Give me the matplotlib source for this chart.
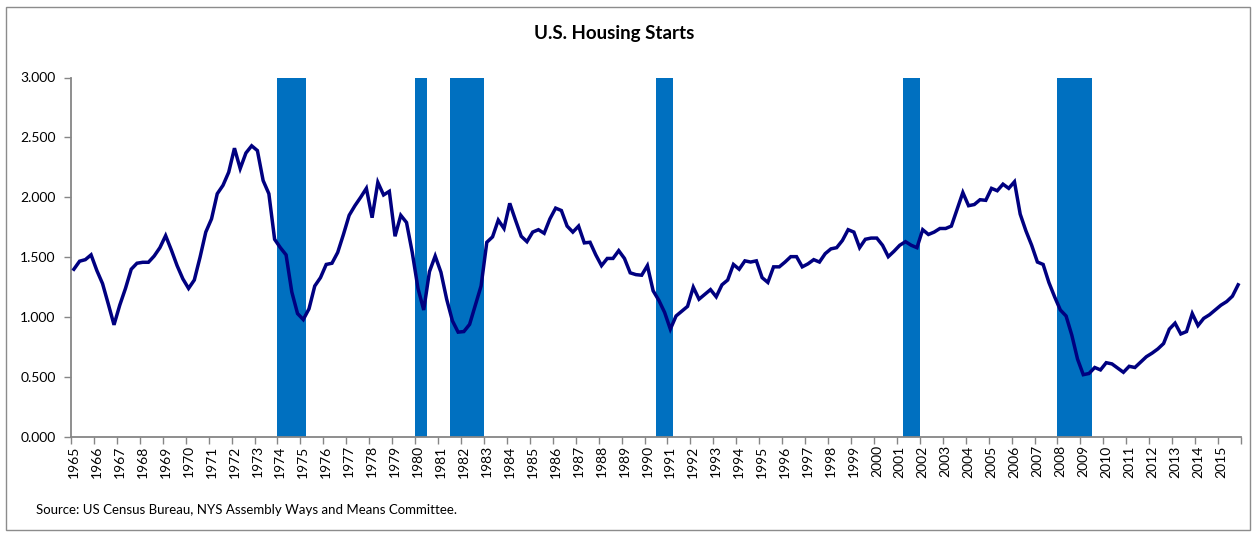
import matplotlib
matplotlib.use("Agg")
import matplotlib.pyplot as plt
import numpy as np
from matplotlib.patches import Rectangle

plt.rcParams["font.family"] = ["Lato", "DejaVu Sans"]

# quarterly housing starts (millions, SAAR), 1965Q1 .. 2015Q4
first_year = 1965
last_year = 2015
starts = [
    1.40, 1.467, 1.48, 1.52, 1.39, 1.28, 1.11, 0.936, 1.10, 1.24,
    1.40, 1.45, 1.458, 1.458, 1.51, 1.58, 1.68, 1.56, 1.43, 1.32,
    1.24, 1.31, 1.50, 1.71, 1.82, 2.03, 2.10, 2.21, 2.41, 2.24,
    2.37, 2.43, 2.39, 2.14, 2.03, 1.65, 1.58, 1.52, 1.21, 1.03,
    0.98, 1.07, 1.26, 1.33, 1.44, 1.45, 1.54, 1.69, 1.85, 1.93,
    2.00, 2.075, 1.83, 2.125, 2.02, 2.05, 1.675, 1.85, 1.79, 1.54,
    1.24, 1.06, 1.38, 1.51, 1.375, 1.15, 0.97, 0.875, 0.88, 0.94,
    1.10, 1.26, 1.625, 1.67, 1.81, 1.74, 1.95, 1.81, 1.675, 1.63,
    1.71, 1.73, 1.70, 1.82, 1.91, 1.89, 1.76, 1.71, 1.76, 1.62,
    1.625, 1.52, 1.43, 1.49, 1.49, 1.555, 1.49, 1.37, 1.355, 1.35,
    1.43, 1.22, 1.14, 1.04, 0.90, 1.01, 1.05, 1.09, 1.25, 1.15,
    1.19, 1.23, 1.17, 1.27, 1.31, 1.44, 1.40, 1.47, 1.46, 1.47,
    1.33, 1.29, 1.42, 1.42, 1.46, 1.505, 1.505, 1.42, 1.445, 1.48,
    1.46, 1.53, 1.57, 1.58, 1.64, 1.73, 1.71, 1.58, 1.65, 1.66,
    1.66, 1.60, 1.505, 1.55, 1.60, 1.63, 1.60, 1.58, 1.73, 1.69,
    1.71, 1.74, 1.74, 1.76, 1.90, 2.04, 1.93, 1.94, 1.98, 1.975,
    2.075, 2.055, 2.11, 2.075, 2.13, 1.86, 1.72, 1.60, 1.46, 1.44,
    1.29, 1.17, 1.06, 1.01, 0.85, 0.65, 0.52, 0.53, 0.58, 0.56,
    0.62, 0.61, 0.575, 0.54, 0.59, 0.58, 0.625, 0.67, 0.70, 0.735,
    0.78, 0.90, 0.95, 0.86, 0.88, 1.03, 0.93, 0.99, 1.02, 1.06,
    1.10, 1.13, 1.175, 1.27,
]

# recession periods (first and last quarter shaded)
recession_start = ["1974Q1", "1980Q1", "1981Q3", "1990Q3", "2001Q2", "2008Q1"]
recession_end = ["1975Q1", "1980Q2", "1982Q4", "1991Q1", "2001Q4", "2009Q2"]

y_ticks = [0.0, 0.5, 1.0, 1.5, 2.0, 2.5, 3.0]
years = list(range(first_year, last_year + 1))

LINE_COLOR = "#000080"
BAR_COLOR = "#0070C0"
AXIS_COLOR = "#868686"


def quarter_index(label):
    year, q = label.split("Q")
    return (int(year) - first_year) * 4 + int(q) - 1


quarters = np.arange(len(starts))
recession = np.zeros(len(starts))
for s, e in zip(recession_start, recession_end):
    recession[quarter_index(s):quarter_index(e) + 1] = y_ticks[-1]

fig = plt.figure(figsize=(12.56, 5.36), dpi=100)
ax = fig.add_axes([71 / 1256, 1 - 437 / 536, 1170 / 1256, 359.5 / 536])

ax.bar(quarters, recession, width=1.0, color=BAR_COLOR, linewidth=0, zorder=1)
ax.plot(quarters, starts, color=LINE_COLOR, linewidth=2.5, zorder=3,
        solid_joinstyle="miter")

ax.set_xlim(-0.5, len(starts) - 0.5)
ax.set_ylim(y_ticks[0], y_ticks[-1])

# tick marks at year boundaries, labels at first quarter of each year
ax.set_xticks(np.arange(-0.5, len(starts), 4))
ax.set_xticklabels([])
ax.set_xticks([quarter_index(f"{y}Q1") for y in years], minor=True)
ax.set_xticklabels([str(y) for y in years], minor=True, rotation=90,
                   fontsize=10, va="top")
ax.tick_params(axis="x", which="major", direction="out", length=5,
               width=1, color=AXIS_COLOR)
ax.tick_params(axis="x", which="minor", length=0, pad=6)

ax.set_yticks(y_ticks)
ax.set_yticklabels([f"{v:.3f}" for v in y_ticks], fontsize=10)
ax.tick_params(axis="y", direction="out", length=5, width=1,
               color=AXIS_COLOR, pad=6)

for side in ("top", "right"):
    ax.spines[side].set_visible(False)
for side in ("left", "bottom"):
    ax.spines[side].set_color(AXIS_COLOR)
    ax.spines[side].set_linewidth(1.3)

fig.text(614 / 1256, 1 - 34 / 536, "U.S. Housing Starts", ha="center",
         va="center", fontsize=13.5, fontweight="bold")
fig.text(36 / 1256, 1 - 510 / 536,
         "Source: US Census Bureau, NYS Assembly Ways and Means Committee.",
         ha="left", va="center", fontsize=9.5)

fig.patches.append(Rectangle((6 / 1256, 6 / 536), 1244 / 1256, 523 / 536,
                             transform=fig.transFigure, fill=False,
                             edgecolor="#8c8c8c", linewidth=1))

fig.savefig("out.png", dpi=100)
